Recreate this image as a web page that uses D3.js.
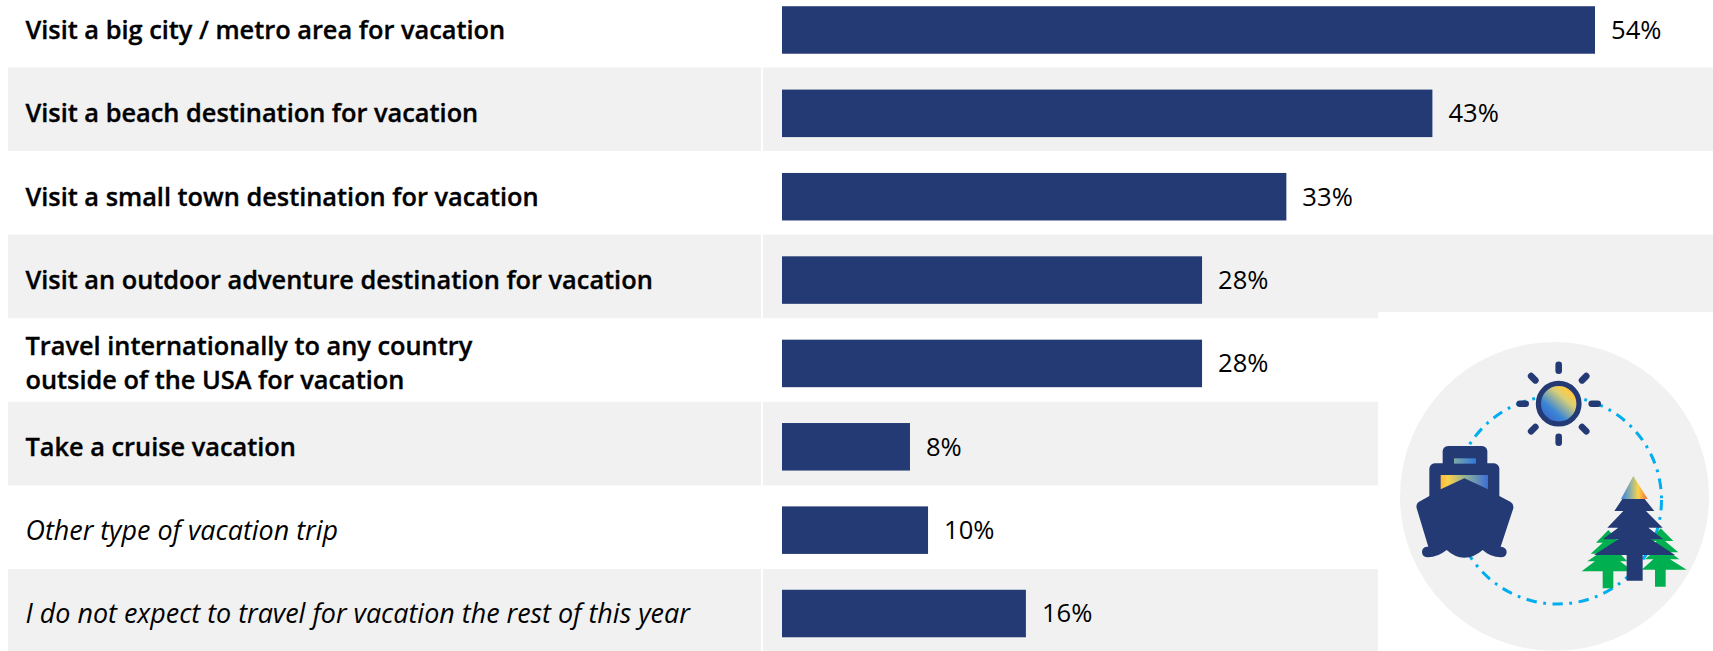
<!DOCTYPE html>
<html><head><meta charset="utf-8">
<script src="https://cdn.jsdelivr.net/npm/d3@7/dist/d3.min.js"></script>
<style>html,body{margin:0;padding:0;background:#fff;overflow:hidden}svg{display:block}text{font-family:"Open Sans",sans-serif;fill:#000}</style>
</head><body><svg id="c" width="1713" height="651"></svg>
<script>
const categories = [
  "Visit a big city / metro area for vacation",
  "Visit a beach destination for vacation",
  "Visit a small town destination for vacation",
  "Visit an outdoor adventure destination for vacation",
  "Travel internationally to any country\noutside of the USA for vacation",
  "Take a cruise vacation",
  "Other type of vacation trip",
  "I do not expect to travel for vacation the rest of this year"
];
const barValues = [54, 43.2, 33.5, 27.9, 27.9, 8.5, 9.7, 16.2];
const valueLabels = ["54%","43%","33%","28%","28%","8%","10%","16%"];
const italicRows = [6, 7];
const shadedRows = [1, 3, 5, 7];

const NAVY = "#243a75", GRAY = "#f1f1f1", W = 1713, H = 651;
const svg = d3.select("#c");
const x = d3.scaleLinear().domain([0, 54]).range([782, 1595]);
const yRow = d3.scaleBand().domain(d3.range(8)).range([-16.1, 652.5]);
const yBar = d3.scaleBand().domain(d3.range(8)).range([-11.7, 655.2]).paddingInner(0.43).paddingOuter(0.215);

// row shading
const rows = svg.append("g");
rows.selectAll(".l").data(shadedRows).join("rect").attr("x", 8).attr("width", 753)
  .attr("y", d => yRow(d)).attr("height", yRow.bandwidth()).attr("fill", GRAY);
rows.selectAll(".r").data(shadedRows).join("rect").attr("x", 763).attr("width", W - 763)
  .attr("y", d => yRow(d)).attr("height", yRow.bandwidth()).attr("fill", GRAY);

// white panel behind the icon
svg.append("rect").attr("x", 1378).attr("y", 312).attr("width", W - 1378).attr("height", H - 312).attr("fill", "#fff");

// bars
svg.selectAll(".bar").data(barValues).join("rect").attr("class", "bar")
  .attr("x", x(0)).attr("y", (d, i) => yBar(i))
  .attr("width", d => x(d) - x(0)).attr("height", yBar.bandwidth()).attr("fill", NAVY);

// value labels
svg.selectAll(".val").data(barValues).join("text").attr("class", "val")
  .attr("x", d => x(d) + 16).attr("y", (d, i) => yBar(i) + yBar.bandwidth() / 2 + 8.8)
  .attr("font-size", 25.6).text((d, i) => valueLabels[i]);

// category labels
categories.forEach((c, i) => {
  const lines = c.split("\n"), it = italicRows.includes(i);
  const cy = yBar(i) + yBar.bandwidth() / 2 + (i >= 5 ? 1.2 : 0.4);
  lines.forEach((ln, j) => {
    svg.append("text").attr("x", 25.5)
      .attr("y", cy + 8.5 + (j - (lines.length - 1) / 2) * 34)
      .attr("font-size", it ? 26.9 : 25.35)
      .attr("font-weight", it ? 400 : 600)
      .attr("stroke", it ? "none" : "#000").attr("stroke-width", it ? 0 : 0.35)
      .attr("font-style", it ? "italic" : "normal").text(ln);
  });
});

// icon decoration
const defs = svg.append("defs");
function grad(id, a, stops) {
  const g = defs.append("linearGradient").attr("id", id).attr("x1", a[0]).attr("y1", a[1]).attr("x2", a[2]).attr("y2", a[3]);
  stops.forEach(s => g.append("stop").attr("offset", s[0]).attr("stop-color", s[1]));
}
grad("gSun", [0.15, 0.9, 0.85, 0.1], [[0, "#3a62c8"], [0.3, "#3a86d6"], [0.68, "#d9cf76"], [0.86, "#fdcb45"], [1, "#f7a63c"]]);
grad("gWin", [0, 0, 1, 0], [[0, "#fdb93c"], [0.15, "#fdd14a"], [0.55, "#8cae9a"], [1, "#3b6fd6"]]);
grad("gTop", [0, 0, 1, 0], [[0, "#7fa8a6"], [1, "#2f78dc"]]);
grad("gTri", [0, 0, 1, 0], [[0, "#3b82dc"], [0.35, "#8fb0a4"], [0.65, "#fdd34a"], [1, "#ef6a35"]]);

const icon = svg.append("g");
icon.append("circle").attr("cx", 1554.5).attr("cy", 496.5).attr("r", 154.5).attr("fill", GRAY);
icon.append("circle").attr("cx", 1557.5).attr("cy", 500).attr("r", 104).attr("fill", "none")
  .attr("stroke", "#00aeef").attr("stroke-width", 3).attr("stroke-dasharray", "10.5 6.5 2.8 6.5");

function poly(g, o, pts, fill) {
  g.append("polygon").attr("points", pts.map(p => [o[0] + p[0] / 3, o[1] + p[1] / 3].join(",")).join(" ")).attr("fill", fill);
}
// trees
const tO = [1570, 460], trees = icon.append("g");
poly(trees, tO, [[115,210],[150,248],[135,248],[168,281],[150,281],[172,304],[150,304],[190,334],[130,334],[130,385],[98,385],[98,334],[35,334],[75,304],[52,304],[85,281],[62,281],[98,248],[78,248]], "#00b050");
poly(trees, tO, [[272,205],[310,243],[285,243],[325,277],[300,277],[328,298],[300,298],[350,329],[287,329],[287,380],[255,380],[255,329],[215,329],[250,298],[225,298],[250,277],[235,277],[260,243],[240,243]], "#00b050");
poly(trees, tO, [[157,117],[224,117],[253,153],[228,153],[278,203],[235,203],[280,238],[243,238],[315,285],[218,285],[218,362],[170,362],[170,285],[72,285],[145,238],[98,238],[145,203],[112,203],[160,153],[133,153]], NAVY);
poly(trees, tO, [[190,48],[233,117],[153,117]], "url(#gTri)");

// ship
const sO = [1400, 430], ship = icon.append("g").attr("transform", `translate(${sO[0]},${sO[1]}) scale(${1/3})`);
ship.append("rect").attr("x", 128).attr("y", 48).attr("width", 134).attr("height", 80).attr("rx", 16).attr("fill", NAVY);
ship.append("rect").attr("x", 88).attr("y", 100).attr("width", 210).attr("height", 130).attr("rx", 16).attr("fill", NAVY);
ship.append("path").attr("fill", NAVY).attr("d",
  "M88,198 L56,216 Q47,222 50,235 L85,350 L80,350 Q66,352 66,366 Q66,382 85,382 Q112,382 140,360 Q165,383 193,383 Q222,383 248,360 Q272,382 302,382 Q320,382 320,366 Q320,352 302,350 L340,235 Q342,222 332,216 L298,198 Z");
poly(ship, [0,0], [[366,405],[792,405],[792,534],[579,435],[366,534]], "url(#gWin)");
poly(ship, [0,0], [[486,255],[684,255],[684,303],[486,303]], "url(#gTop)");

// sun
const sun = [1558.7, 403.7], sunG = icon.append("g");
sunG.selectAll("line").data(d3.range(8).map(i => i * Math.PI / 4)).join("line")
  .attr("x1", d => sun[0] + 33 * Math.cos(d)).attr("y1", d => sun[1] + 33 * Math.sin(d))
  .attr("x2", d => sun[0] + 39 * Math.cos(d)).attr("y2", d => sun[1] + 39 * Math.sin(d))
  .attr("stroke", NAVY).attr("stroke-width", 6.6).attr("stroke-linecap", "round");
sunG.append("circle").attr("cx", sun[0]).attr("cy", sun[1]).attr("r", 20.3)
  .attr("fill", "url(#gSun)").attr("stroke", NAVY).attr("stroke-width", 5.2);
</script></body></html>
